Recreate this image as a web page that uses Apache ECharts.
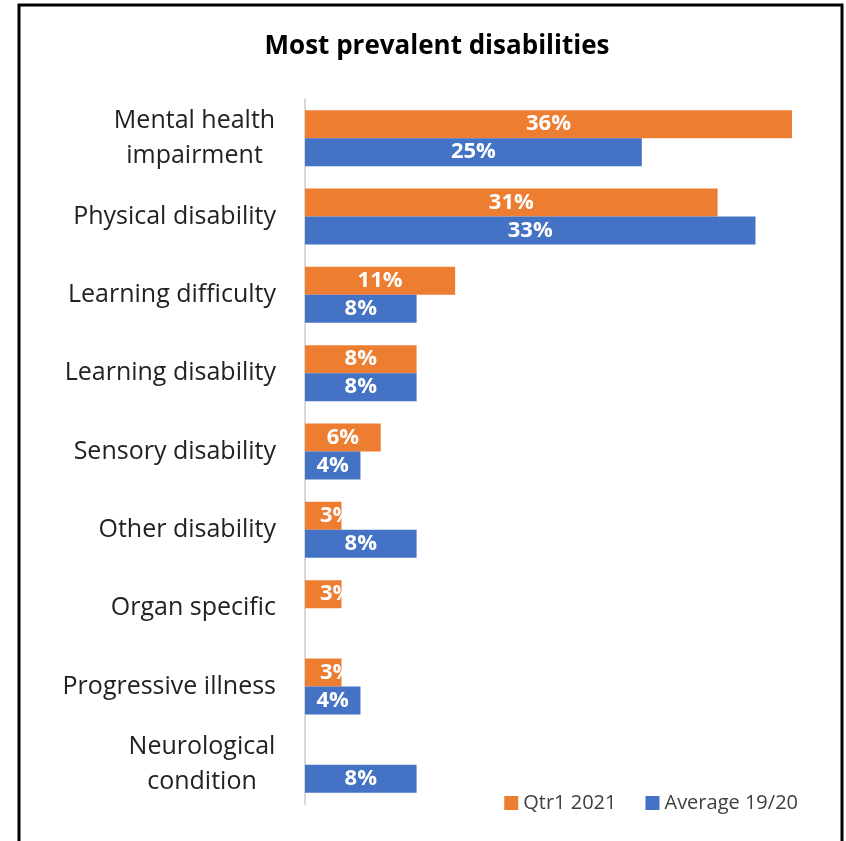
<!DOCTYPE html>
<html lang="en">
<head>
    <meta charset="UTF-8">
    <title>Most prevalent disabilities</title>
    <script src="https://cdn.jsdelivr.net/npm/echarts@6/dist/echarts.min.js"></script>
    <style>
        html, body { margin: 0; padding: 0; background: #fff; }
    </style>
</head>
<body>
<div id="dom" style="width: 846px;height: 841px"></div>
<script>
    // categories, top to bottom
    var categories = ['Mental health\nimpairment', 'Physical disability', 'Learning difficulty',
        'Learning disability', 'Sensory disability', 'Other disability', 'Organ specific',
        'Progressive illness', 'Neurological\ncondition'];
    // values (labels show them rounded)
    var qtr1 = [36, 30.5, 11.1, 8.25, 5.6, 2.7, 2.7, 2.7, null];
    var avg1920 = [24.9, 33.3, 8.25, 8.25, 4.1, 8.25, null, 4.1, 8.25];

    function toData(arr) {
        return arr.map(function (v) {
            if (v === null) return '-';
            // tiny bars: excel pushes the label off centre
            if (v < 3.5) return { value: v, label: { position: 'insideLeft', distance: 15 } };
            return v;
        });
    }

    // two-line labels: lines centred on each other, block right aligned
    var catFont = '25px "Open Sans"';
    var ctx = document.createElement('canvas').getContext('2d');
    ctx.font = catFont;
    var rich = {};
    categories.forEach(function (c, i) {
        if (c.indexOf('\n') < 0) return;
        var w = 0;
        c.split('\n').forEach(function (l) { w = Math.max(w, ctx.measureText(l).width); });
        rich['c' + i] = { width: Math.ceil(w) + 1, align: 'center', fontFamily: 'Open Sans', fontSize: 25, lineHeight: 35, color: '#222' };
    });

    var dom = document.getElementById("dom");
    var myCharts = echarts.init(dom);
    var labelStyle = {
        show: true,
        position: 'inside',
        color: '#fff',
        fontFamily: 'Open Sans',
        fontWeight: 'bold',
        fontSize: 22,
        formatter: function (p) { return Math.round(p.value) + '%'; }
    };
    var option = {
        animation: false,
        title: {
            text: 'Most prevalent disabilities',
            left: 432,
            top: 29,
            textAlign: 'center',
            textStyle: { fontFamily: 'Open Sans', fontWeight: 'bold', fontSize: 26, color: '#000' }
        },
        graphic: [{
            type: 'rect',
            shape: { x: 19, y: 5, width: 823, height: 900 },
            style: { fill: 'none', stroke: '#000', lineWidth: 3 }
        }],
        legend: {
            right: 43,
            top: 788,
            itemWidth: 14,
            itemHeight: 14,
            itemGap: 29,
            icon: 'rect',
            textStyle: { fontFamily: 'Open Sans', fontSize: 20, color: '#404040' },
            data: ['Qtr1 2021', 'Average 19/20']
        },
        grid: { left: 305, right: 54, top: 99, bottom: 37 },
        xAxis: {
            type: 'value',
            min: 0,
            max: 36,
            show: false
        },
        yAxis: {
            type: 'category',
            inverse: true,
            data: categories,
            axisLine: { lineStyle: { color: '#d9d9d9', width: 2 } },
            axisTick: { show: false },
            axisLabel: {
                margin: 29,
                fontFamily: 'Open Sans',
                fontSize: 25,
                lineHeight: 35,
                color: '#222',
                align: 'right',
                rich: rich,
                formatter: function (value, index) {
                    if (value.indexOf('\n') < 0) return value;
                    return value.split('\n').map(function (l) {
                        return '{c' + index + '|' + l + '}';
                    }).join('\n');
                }
            }
        },
        series: [
            {
                name: 'Qtr1 2021',
                type: 'bar',
                barWidth: 28,
                barGap: 0,
                itemStyle: { color: '#ED7D31' },
                label: labelStyle,
                data: toData(qtr1)
            },
            {
                name: 'Average 19/20',
                type: 'bar',
                barWidth: 28,
                barGap: 0,
                itemStyle: { color: '#4472C4' },
                label: labelStyle,
                data: toData(avg1920)
            }
        ]
    };
    myCharts.setOption(option);
</script>
</body>
</html>
